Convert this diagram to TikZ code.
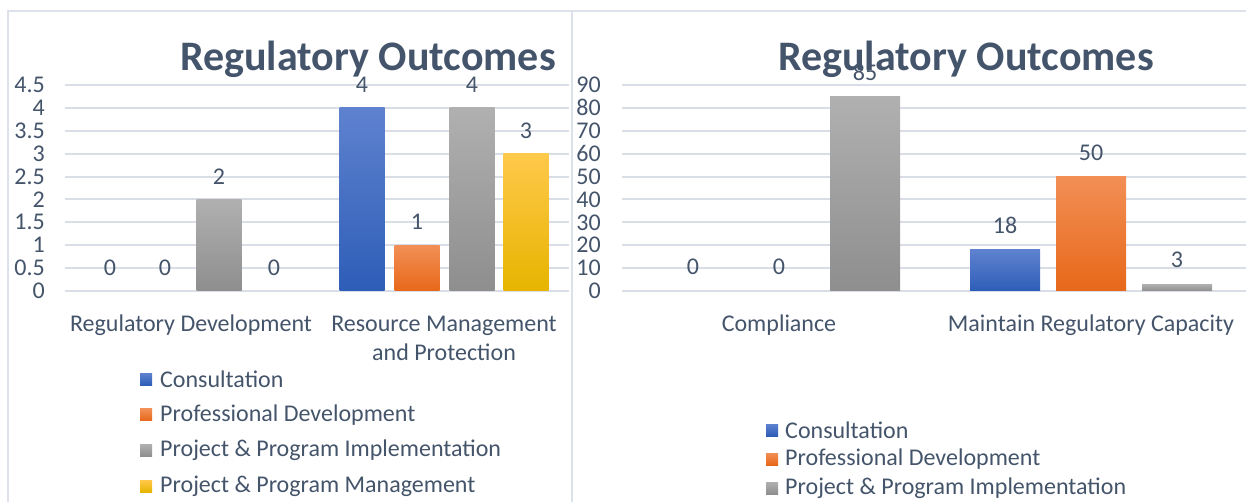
\documentclass[tikz,border=0pt]{standalone}
\usepackage{fontspec}
\setmainfont{Carlito}
\definecolor{ink}{HTML}{44546A}
\definecolor{gridc}{HTML}{D9DEE6}
\definecolor{framec}{HTML}{DDE2EA}
\definecolor{blueT}{HTML}{5E82CF}
\definecolor{blueB}{HTML}{2E5DB7}
\definecolor{orangeT}{HTML}{F28F55}
\definecolor{orangeB}{HTML}{E7681A}
\definecolor{grayT}{HTML}{B0B0B0}
\definecolor{grayB}{HTML}{8E8E8E}
\definecolor{yellowT}{HTML}{FFC94A}
\definecolor{yellowM}{HTML}{FFC200}
\definecolor{yellowB}{HTML}{E6B400}
\tikzset{
  lbl/.style={font=\fontsize{24}{29}\selectfont, text=ink, inner sep=0pt},
  ttl/.style={font=\fontsize{42}{42}\selectfont\bfseries, text=ink, inner sep=0pt, anchor=base},
  tick/.style={lbl, anchor=east},
  catlbl/.style={lbl, anchor=base, align=center},
  keylbl/.style={lbl, anchor=west},
  gridln/.style={draw=gridc, line width=2pt},
  frameln/.style={draw=framec, line width=2.5pt},
  blue/.style={top color=blueT, bottom color=blueB},
  orange/.style={top color=orangeT, bottom color=orangeB},
  gray/.style={top color=grayT, bottom color=grayB},
  yellow/.style={top color=yellowT, middle color=yellowM, bottom color=yellowB},
}
\begin{document}
\begin{tikzpicture}[x=1pt, y=-1pt]
    \useasboundingbox (0,0) rectangle (1246,502);
    % panel frames
    \draw[frameln] (8,502) -- (8,11) -- (1246,11);
    \draw[frameln] (572,11) -- (572,502);

    % ---- left chart ----
    \foreach \i [evaluate=\i as \y using 291-22.89*\i] in {0,...,9}
        \draw[gridln] (65,\y) -- (569,\y);
    \foreach \t [count=\i from 0, evaluate=\i as \y using 291-22.89*\i] in {0,0.5,1,1.5,2,2.5,3,3.5,4,4.5}
        \node[tick] (ly\i) at (45,\y) {\t};
    \node[ttl] (ltitle) at (368,71) {Regulatory Outcomes};
    \foreach \x/\v/\s [count=\k, evaluate=\v as \top using 291-45.78*\v] in
        {110/0/blue, 165/0/orange, 219/2/gray, 274/0/yellow,
         362/4/blue, 417/1/orange, 472/4/gray, 526/3/yellow}
    {
        \ifdim\v pt>0pt \shade[\s] (\x-22.5,291) rectangle (\x+22.5,\top); \fi
        \node[lbl] (lv\k) at (\x,\top-23) {\v};
    }
    \node[catlbl] (lcat1) at (191,331) {Regulatory Development};
    \node[catlbl] (lcat2) at (444,360) {Resource Management\\and Protection};
    % legend
    \foreach \s/\t [count=\k, evaluate=\k as \y using 343.3+35.7*\k] in
        {blue/Consultation, orange/Professional Development,
         gray/Project \& Program Implementation, yellow/Project \& Program Management}
    {
        \shade[\s] (140,\y-6) rectangle (152,\y+6);
        \node[keylbl] (lkey\k) at (160,\y) {\t};
    }

    % ---- right chart ----
    \foreach \i [evaluate=\i as \y using 291-22.89*\i] in {0,...,9}
        \draw[gridln] (622,\y) -- (1246,\y);
    \foreach \t [count=\i from 0, evaluate=\i as \y using 291-22.89*\i] in {0,10,...,90}
        \node[tick] (ry\i) at (601,\y) {\t};
    \node[ttl] (rtitle) at (966,71) {Regulatory Outcomes};
    \foreach \x/\v/\s [count=\k, evaluate=\v as \top using 291-2.289*\v] in
        {693/0/blue, 779/0/orange, 865/85/gray,
         1005/18/blue, 1091/50/orange, 1177/3/gray}
    {
        \ifdim\v pt>0pt \shade[\s] (\x-35,291) rectangle (\x+35,\top); \fi
        \node[lbl] (rv\k) at (\x,\top-24) {\v};
    }
    \node[catlbl] (rcat1) at (779,331) {Compliance};
    \node[catlbl] (rcat2) at (1091,331) {Maintain Regulatory Capacity};
    % legend
    \foreach \s/\t [count=\k, evaluate=\k as \y using 401+29*\k] in
        {blue/Consultation, orange/Professional Development,
         gray/Project \& Program Implementation}
    {
        \shade[\s] (766,\y-6) rectangle (778,\y+6);
        \node[keylbl] (rkey\k) at (785,\y) {\t};
    }
\end{tikzpicture}
\end{document}
